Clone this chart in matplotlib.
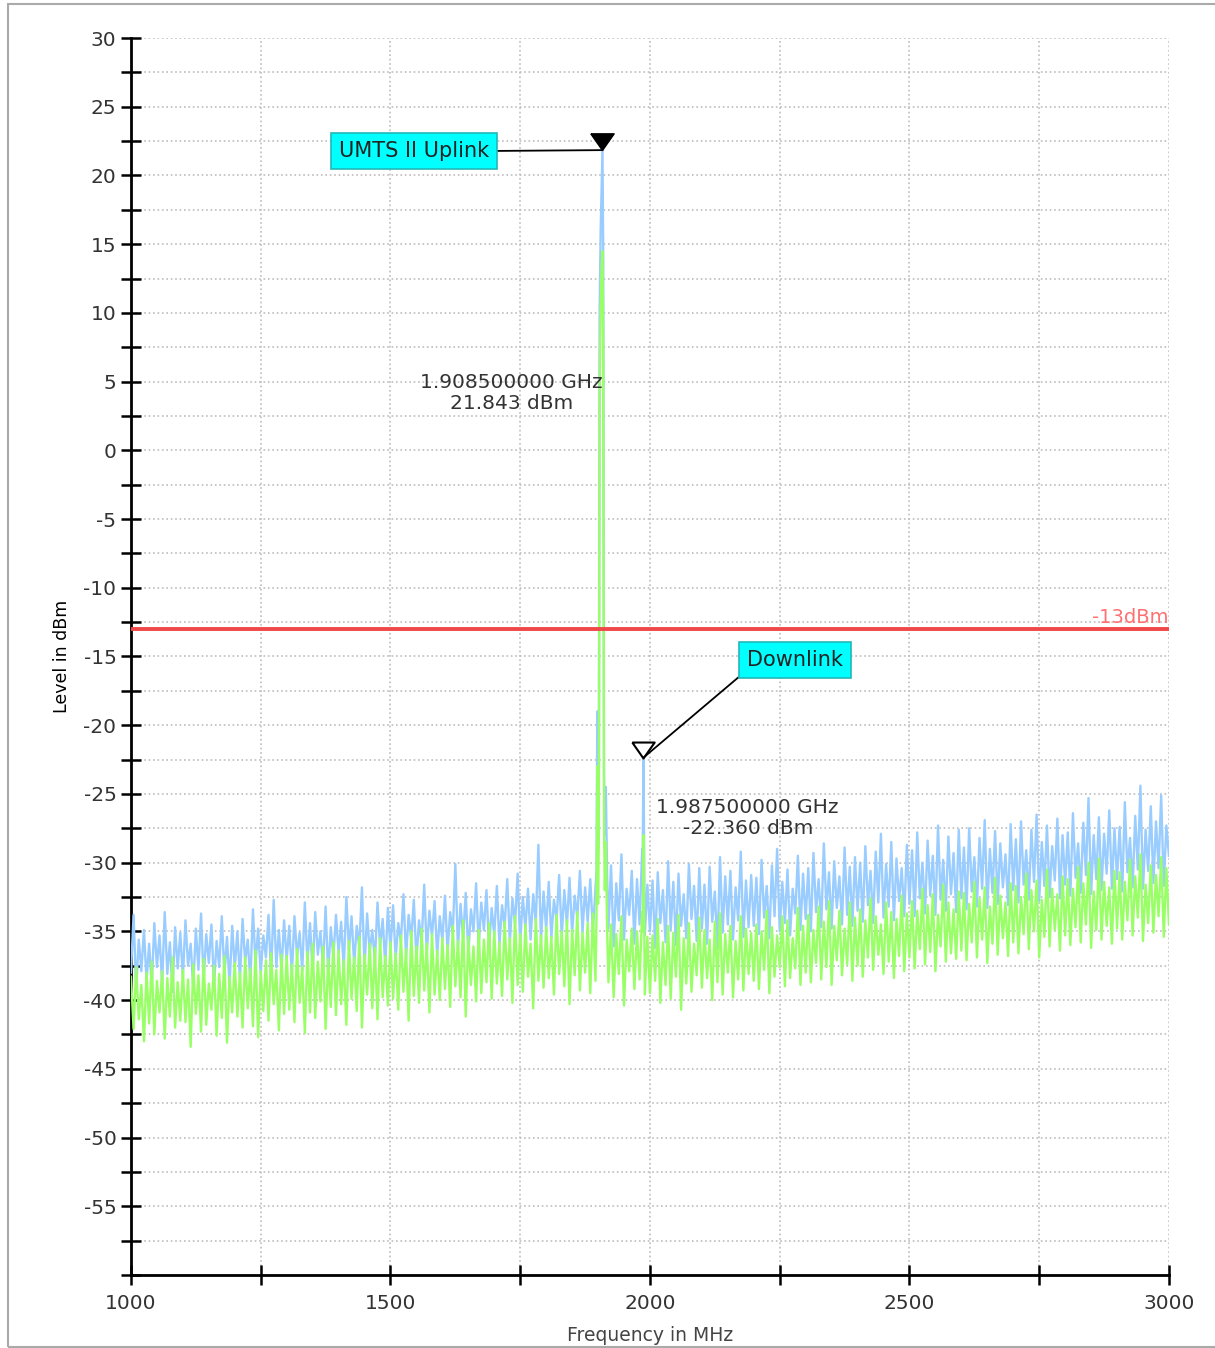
import numpy as np
import matplotlib.pyplot as plt
from matplotlib.patches import Rectangle

plt.rcParams['font.family'] = ['DejaVu Sans']
plt.rcParams['axes.unicode_minus'] = False

# --- trace data (MHz / dBm) ---
# lower band, 1000..1895 MHz in 5 MHz steps
freq_low = np.arange(1000, 1900, 5)
blue_low = [
    -38.0, -33.8, -39.2, -35.6, -37.9, -34.9, -38.6, -35.9, -39.0, -34.4,
    -37.6, -35.3, -38.8, -33.6, -38.1, -35.8, -39.4, -34.7, -37.7, -35.1,
    -38.4, -34.2, -37.5, -35.9, -39.1, -34.8, -37.8, -33.7, -38.6, -35.2,
    -37.3, -34.5, -38.9, -35.7, -37.6, -33.9, -38.2, -35.4, -39.0, -34.6,
    -37.7, -35.0, -38.5, -34.1, -37.2, -35.6, -38.7, -33.4, -37.4, -34.8,
    -38.1, -35.3, -36.9, -33.8, -38.3, -32.7, -37.6, -34.9, -37.9, -34.2,
    -37.1, -34.6, -38.2, -33.9, -36.8, -35.1, -37.9, -32.9, -37.3, -34.4,
    -38.0, -33.6, -36.7, -35.0, -37.6, -33.2, -38.1, -34.7, -36.9, -33.8,
    -36.6, -34.3, -37.8, -32.5, -36.4, -33.9, -37.4, -34.6, -36.2, -31.8,
    -37.7, -33.7, -36.5, -34.9, -37.2, -32.9, -36.1, -34.1, -37.5, -33.3,
    -36.3, -33.1, -37.0, -34.4, -35.8, -32.3, -36.9, -33.8, -35.6, -32.7,
    -37.1, -34.2, -35.9, -31.6, -36.6, -33.5, -35.4, -32.8, -36.8, -33.9,
    -35.7, -32.4, -36.5, -33.6, -35.2, -30.1, -36.3, -33.0, -35.5, -32.2,
    -36.7, -33.4, -35.0, -31.5, -36.1, -32.9, -34.9, -32.0, -36.2, -33.3,
    -35.3, -31.7, -36.0, -33.1, -34.7, -31.2, -35.8, -32.6, -34.5, -30.8,
    -35.9, -32.5, -34.8, -31.9, -35.6, -32.3, -34.4, -28.7, -35.7, -32.1,
    -34.9, -31.4, -35.5, -32.7, -34.2, -30.9, -35.4, -32.0, -34.6, -31.1,
    -35.2, -32.4, -34.0, -30.6, -35.1, -31.8, -34.3, -31.2, -35.0, -31.9,
]
green_low = [
    -38.3, -42.1, -37.6, -41.4, -38.9, -43.0, -38.0, -41.7, -37.2, -42.5,
    -38.6, -40.9, -37.9, -42.8, -38.4, -41.2, -36.9, -42.0, -38.7, -41.5,
    -37.8, -41.6, -38.5, -43.4, -37.4, -41.0, -38.2, -42.3, -37.0, -41.8,
    -38.8, -40.7, -37.5, -42.6, -38.1, -41.3, -36.8, -43.1, -38.3, -40.9,
    -37.3, -41.2, -38.0, -42.0, -36.9, -40.6, -37.7, -41.9, -36.4, -42.7,
    -37.9, -40.8, -37.1, -41.5, -36.6, -40.3, -37.8, -42.2, -36.7, -41.0,
    -36.8, -40.7, -37.4, -41.6, -36.3, -40.2, -37.6, -42.4, -36.5, -40.9,
    -35.9, -41.3, -37.2, -40.1, -36.1, -42.1, -37.0, -40.5, -35.8, -41.1,
    -36.4, -40.3, -37.1, -41.8, -35.7, -39.9, -36.9, -40.8, -35.4, -42.0,
    -36.7, -39.6, -35.9, -40.6, -36.2, -41.4, -35.5, -39.8, -36.8, -40.4,
    -35.8, -39.9, -36.6, -40.7, -35.3, -39.4, -36.3, -41.5, -35.0, -39.7,
    -36.1, -40.2, -34.8, -39.3, -35.9, -40.9, -35.2, -39.6, -36.4, -40.0,
    -35.5, -39.2, -36.0, -40.5, -34.6, -39.0, -35.7, -39.8, -34.2, -41.2,
    -35.4, -38.9, -36.1, -40.1, -34.9, -39.5, -35.6, -38.7, -34.4, -39.9,
    -35.0, -38.8, -35.8, -39.7, -34.3, -38.5, -35.5, -40.2, -33.9, -38.9,
    -35.2, -39.4, -34.5, -38.3, -35.9, -40.6, -34.1, -38.6, -35.3, -39.1,
    -34.7, -38.4, -35.4, -39.6, -33.8, -38.1, -35.0, -39.0, -34.2, -40.3,
    -34.9, -38.2, -33.6, -39.3, -35.1, -38.0, -34.4, -39.5, -33.7, -38.6,
]

# UMTS II uplink carrier
freq_carrier = [1897, 1898.5, 1900, 1901.5, 1903, 1905, 1907, 1908.5, 1910, 1911.5, 1913, 1915, 1917.5]
blue_carrier = [-30.5, -19.0, -29.0, -24.0, 10.0, 16.0, 19.5, 21.843, 14.0, -23.5, -28.0, -24.5, -31.0]
green_carrier = [-34.0, -23.0, -33.0, -28.0, 4.0, 10.5, 13.5, 14.5, 8.0, -27.5, -32.0, -28.5, -35.0]

# downlink line
freq_dl = [1986, 1987.5, 1989]
blue_dl = [-29.5, -22.36, -30.5]
green_dl = [-35.0, -28.0, -34.5]

# upper band, 1920..3000 MHz in 5 MHz steps
freq_high = np.arange(1920, 3005, 5)
blue_high = [
    -34.8, -30.2, -36.1, -31.5, -34.2, -29.4, -35.6, -31.9, -33.8, -30.6,
    -35.9, -31.2, -34.5, -29.0, -35.3, -31.6,
    -35.0, -31.3, -36.2, -30.7, -34.4, -32.0, -35.8, -29.9, -34.9, -31.4,
    -36.0, -30.8, -34.6, -32.3, -35.5, -30.1, -34.1, -31.7, -35.7, -30.4,
    -34.8, -31.6, -35.9, -30.3, -34.3, -32.1, -36.3, -29.6, -35.1, -31.0,
    -34.5, -30.6, -35.6, -31.8, -34.2, -29.2, -35.4, -31.3, -34.7, -30.9,
    -34.6, -31.1, -35.2, -29.8, -34.0, -31.7, -35.5, -30.2, -33.9, -29.0,
    -35.0, -31.4, -34.4, -30.5, -35.3, -31.9, -33.7, -29.5, -34.9, -30.8,
    -34.1, -30.4, -35.0, -29.3, -33.6, -31.2, -34.7, -28.6, -33.4, -30.7,
    -34.8, -29.9, -33.3, -31.0, -34.5, -28.9, -33.8, -30.3, -34.6, -29.6,
    -33.5, -30.0, -34.3, -28.8, -33.1, -30.6, -34.4, -29.2, -32.9, -27.9,
    -34.0, -30.1, -33.2, -28.5, -34.2, -29.7, -32.8, -30.4, -33.9, -28.7,
    -33.0, -29.1, -33.9, -27.8, -32.6, -30.0, -33.7, -28.4, -32.4, -29.5,
    -33.8, -27.3, -32.7, -29.8, -33.5, -28.1, -32.3, -29.3, -33.6, -27.6,
    -32.6, -28.9, -33.4, -27.5, -32.1, -29.6, -33.2, -28.2, -31.9, -26.9,
    -33.3, -29.0, -32.2, -27.7, -33.0, -28.6, -31.8, -29.4, -33.1, -27.2,
    -32.0, -28.3, -32.9, -27.0, -31.6, -29.1, -32.7, -27.6, -31.4, -26.5,
    -32.8, -28.5, -31.7, -27.3, -32.5, -28.8, -31.3, -26.8, -32.6, -28.0,
    -31.6, -27.8, -32.4, -26.4, -31.1, -28.6, -32.2, -27.1, -30.9, -25.3,
    -32.3, -28.0, -31.2, -26.7, -32.0, -27.9, -30.8, -26.2, -31.9, -27.5,
    -31.2, -27.4, -32.1, -25.6, -30.7, -28.2, -31.8, -26.6, -30.5, -24.4,
    -31.9, -27.6, -30.6, -25.9, -31.5, -27.0, -30.4, -25.1, -31.7, -27.3,
    -29.5,
]
green_high = [
    -38.7, -34.5, -39.8, -35.2, -38.1, -33.9, -40.4, -35.6, -37.9, -34.8,
    -39.2, -35.0, -38.5, -33.6, -39.6, -35.4,
    -39.5, -35.3, -38.6, -34.1, -40.2, -35.8, -38.9, -34.6, -39.9, -35.1,
    -38.3, -33.8, -40.7, -35.5, -38.8, -34.4, -39.4, -35.9, -38.2, -34.0,
    -39.1, -34.9, -38.4, -35.6, -40.0, -34.3, -38.7, -33.7, -39.6, -35.2,
    -38.0, -34.6, -39.8, -35.7, -38.5, -33.9, -39.3, -34.8, -38.1, -35.1,
    -38.6, -34.5, -39.2, -35.0, -37.8, -33.5, -39.5, -34.7, -38.3, -35.3,
    -37.6, -33.9, -39.0, -34.2, -38.4, -35.5, -37.7, -33.3, -38.9, -34.6,
    -38.0, -33.8, -38.7, -34.9, -37.3, -33.2, -38.5, -34.3, -37.6, -32.8,
    -38.9, -34.6, -37.1, -33.5, -38.2, -34.8, -37.4, -32.9, -38.6, -34.0,
    -37.5, -33.4, -38.3, -34.2, -36.9, -32.6, -37.8, -33.9, -36.7, -34.5,
    -38.1, -32.9, -37.2, -33.6, -38.4, -34.1, -36.8, -32.4, -37.9, -33.7,
    -36.9, -32.8, -37.7, -33.5, -36.3, -31.9, -37.4, -33.1, -36.5, -32.3,
    -37.9, -33.8, -36.1, -31.6, -37.2, -32.9, -36.6, -33.4, -37.0, -32.1,
    -36.4, -32.2, -37.1, -33.0, -35.8, -31.4, -36.9, -32.6, -35.6, -31.8,
    -37.3, -33.2, -35.9, -31.1, -36.7, -32.4, -35.5, -32.9, -36.8, -31.5,
    -35.8, -31.7, -36.6, -32.5, -35.2, -30.8, -36.3, -32.0, -35.0, -31.3,
    -36.9, -32.7, -35.4, -30.5, -36.1, -31.9, -34.9, -32.3, -36.4, -31.0,
    -35.3, -31.2, -36.0, -31.9, -34.7, -30.3, -35.8, -31.5, -34.5, -30.0,
    -36.2, -32.1, -34.9, -29.7, -35.6, -31.4, -34.6, -31.8, -35.9, -30.6,
    -34.8, -30.7, -35.6, -31.4, -34.2, -29.8, -35.3, -31.0, -34.0, -29.4,
    -35.7, -31.6, -34.4, -30.2, -35.1, -30.9, -33.9, -29.6, -35.4, -30.4,
    -34.5,
]

limit_level = -13
uplink_freq, uplink_level = 1908.5, 21.843
downlink_freq, downlink_level = 1987.5, -22.36

# merge everything into one sweep
freq = np.concatenate([freq_low, freq_carrier, freq_dl, freq_high])
blue = np.concatenate([blue_low, blue_carrier, blue_dl, blue_high])
green = np.concatenate([green_low, green_carrier, green_dl, green_high])
order = np.argsort(freq, kind='stable')
freq, blue, green = freq[order], blue[order], green[order]

fig = plt.figure(figsize=(12.15, 13.48), dpi=100)
ax = fig.add_axes([0.1078, 0.0542, 0.8543, 0.9176])

ax.plot(freq, blue, color='#99ccff', lw=1.7, zorder=3)
ax.plot(freq, green, color='#99ff66', lw=1.7, zorder=3)

ax.axhline(limit_level, color='#f04848', lw=2.8, zorder=4)
ax.text(3000, limit_level + 0.15, '-13dBm', color='#ff7070', fontsize=14,
        ha='right', va='bottom', zorder=5)

# markers, tip sits on the data point
tri = [(-0.7, 1.0), (0.7, 1.0), (0.0, 0.0), (-0.7, 1.0)]
ax.plot([uplink_freq], [uplink_level], marker=tri, ms=24, color='black',
        mec='black', zorder=6, clip_on=False)
ax.plot([downlink_freq], [downlink_level], marker=tri, ms=23, mfc='white',
        mec='black', mew=1.5, zorder=6)

box = dict(boxstyle='square,pad=0.38', fc='#00ffff', ec='#22b8b8', lw=1.2)
ax.annotate('UMTS II Uplink', xy=(uplink_freq, uplink_level), xytext=(1545, 21.78),
            fontsize=15, color='#222222', ha='center', va='center', bbox=box,
            arrowprops=dict(arrowstyle='-', color='black', lw=1.3,
                            relpos=(1, 0.5), shrinkA=0, shrinkB=0), zorder=7)
ax.annotate('Downlink', xy=(downlink_freq, downlink_level), xytext=(2279, -15.27),
            fontsize=15, color='#222222', ha='center', va='center', bbox=box,
            arrowprops=dict(arrowstyle='-', color='black', lw=1.3,
                            relpos=(0, 0), shrinkA=0, shrinkB=0), zorder=7)

ax.text(uplink_freq, 4.15, f'{uplink_freq / 1000:.9f} GHz\n{uplink_level:.3f} dBm',
        fontsize=14.5, color='#333333', ha='right', va='center',
        multialignment='center', linespacing=1.15, zorder=7)
ax.text(downlink_freq + 25, -26.77, f'{downlink_freq / 1000:.9f} GHz\n{downlink_level:.3f} dBm',
        fontsize=14.5, color='#333333', ha='left', va='center',
        multialignment='center', linespacing=1.15, zorder=7)

# axes styling
ax.set_xlim(1000, 3000)
ax.set_ylim(-60, 30)
ax.set_xticks(np.arange(1000, 3001, 500))
ax.set_xticks(np.arange(1000, 3001, 250), minor=True)
ax.set_yticks(np.arange(-55, 31, 5))
ax.set_yticks(np.arange(-60, 31, 2.5), minor=True)
ax.tick_params(which='both', direction='inout', length=15, width=1.8,
               color='black', labelsize=14.5, labelcolor='#333333')
ax.tick_params(axis='y', which='both', pad=3)
ax.tick_params(axis='x', which='both', pad=6)
ax.grid(which='both', color='#bdbdbd', linestyle=':', lw=1.2)
ax.set_axisbelow(True)
for side in ['top', 'right']:
    ax.spines[side].set_visible(False)
for side in ['left', 'bottom']:
    ax.spines[side].set_linewidth(2)

ax.set_xlabel('Frequency in MHz', fontsize=13.5, color='#444444')
ax.xaxis.set_label_coords(0.5, -0.041)
ax.set_ylabel('Level in dBm', fontsize=12.5, color='black')
ax.yaxis.set_label_coords(-0.058, 0.5)

fig.patches.append(Rectangle((8 / 1215, 1 / 1348), 1.01, 1343 / 1348,
                             transform=fig.transFigure, fill=False,
                             edgecolor='#aaaaaa', lw=1.5))

fig.savefig('out.png', dpi=100)
